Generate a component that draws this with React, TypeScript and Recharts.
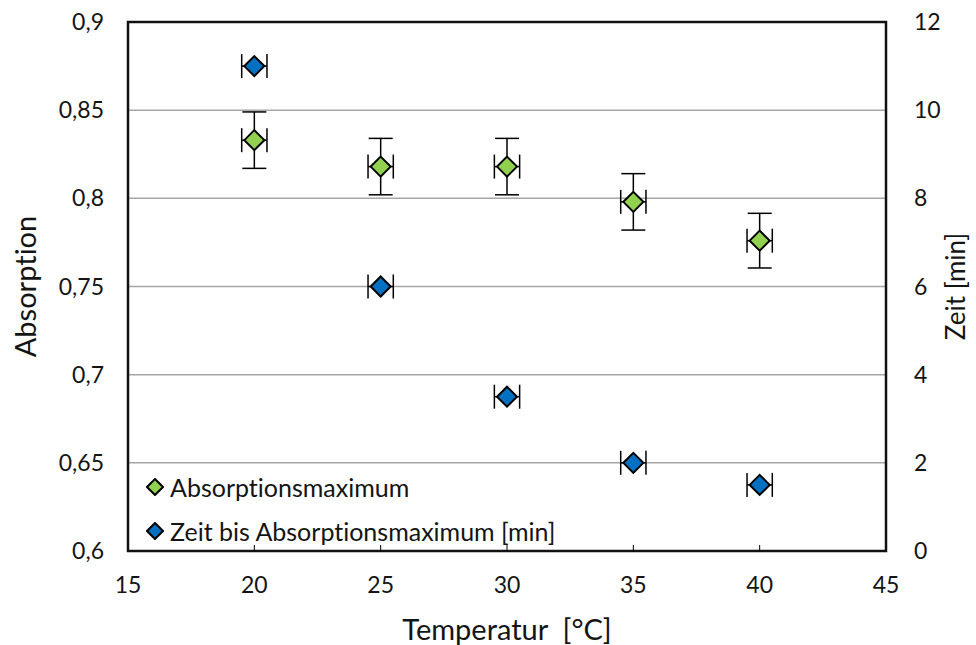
import React from 'react';
import {
  ScatterChart, Scatter, XAxis, YAxis, CartesianGrid, ErrorBar, ReferenceArea
} from 'recharts';

// Temperatur [°C]
const temperatures = [20, 25, 30, 35, 40];
const tempErr = [0.5, 0.5, 0.5, 0.5, 0.5];
// Absorptionsmaximum (left axis)
const absorption = [0.833, 0.818, 0.818, 0.798, 0.776];
const absorptionErr = [0.016, 0.016, 0.016, 0.016, 0.0155];
// Zeit bis Absorptionsmaximum [min] (right axis)
const zeitMin = [11, 6, 3.5, 2, 1.5];

const xTicks = [15, 20, 25, 30, 35, 40, 45];
const leftTicks = [0.6, 0.65, 0.7, 0.75, 0.8, 0.85, 0.9];
const rightTicks = [0, 2, 4, 6, 8, 10, 12];

const GREEN = '#92D050';
const BLUE = '#0070C0';
const FONT = 'Lato, "Open Sans", sans-serif';
const TXT = '#141414';
// Lato joins "ti" into a ligature, the original font does not
const NOLIG = { fontVariantLigatures: 'none', fontFeatureSettings: '"liga" 0, "clig" 0, "dlig" 0' } as any;

const series = [
  { name: 'Absorptionsmaximum', color: GREEN },
  { name: 'Zeit bis Absorptionsmaximum [min]', color: BLUE },
];

const absData = temperatures.map((t, i) => ({ t, v: absorption[i], ex: tempErr[i], ey: absorptionErr[i] }));
const zeitData = temperatures.map((t, i) => ({ t, v: zeitMin[i], ex: tempErr[i] }));

const comma = (v: number) => String(v).replace('.', ',');

const Diamond = (props: any) => {
  const { cx, cy, fill } = props;
  const r = 10;
  return (
    <polygon
      points={`${cx},${cy - r} ${cx + r},${cy} ${cx},${cy + r} ${cx - r},${cy}`}
      fill={fill}
      stroke="#000"
      strokeWidth={2}
    />
  );
};

const XTick = (props: any) => {
  const { x, y, payload } = props;
  const inner = payload.value > 15 && payload.value < 45;
  return (
    <g>
      {inner && <line x1={x} x2={x} y1={y} y2={y - 6} stroke="#000" strokeWidth={1} />}
      <text x={x} y={y + 42} textAnchor="middle" fontSize={23} fill={TXT} fontFamily={FONT}>
        {payload.value}
      </text>
    </g>
  );
};

export default function App() {
  return (
    <div style={{ position: 'absolute', left: 0, top: 0, width: 976, height: 645, background: '#fff', ...NOLIG }}>
      <ScatterChart
        width={976}
        height={645}
        margin={{ top: 22, right: 0, bottom: 0, left: 0 }}
        style={{ fontFamily: FONT, ...NOLIG }}
      >
        <CartesianGrid yAxisId="left" vertical={false} stroke="#a6a6a6" strokeWidth={1.5} />
        <XAxis
          type="number"
          dataKey="t"
          domain={[15, 45]}
          ticks={xTicks}
          height={94}
          tickSize={0}
          tickMargin={0}
          tickLine={false}
          axisLine={false}
          tick={<XTick />}
          label={{ value: 'Temperatur\u00a0 [°C]', position: 'insideBottom', offset: 5, fontSize: 29, fill: TXT, fontFamily: FONT }}
        />
        <YAxis
          yAxisId="left"
          type="number"
          dataKey="v"
          domain={[0.6, 0.9]}
          ticks={leftTicks}
          width={128}
          tickSize={0}
          tickMargin={24}
          tickLine={false}
          axisLine={false}
          tickFormatter={comma}
          tick={{ fontSize: 23, fill: TXT, fontFamily: FONT }}
          label={{ value: 'Absorption', angle: -90, position: 'insideLeft', offset: 26, fontSize: 29, fill: TXT, fontFamily: FONT, style: { textAnchor: 'middle', ...NOLIG } }}
        />
        <YAxis
          yAxisId="right"
          orientation="right"
          type="number"
          dataKey="v"
          domain={[0, 12]}
          ticks={rightTicks}
          width={90}
          tickSize={0}
          tickMargin={28}
          tickLine={false}
          axisLine={false}
          tick={{ fontSize: 23, fill: TXT, fontFamily: FONT, textAnchor: 'start' }}
          label={{ value: 'Zeit [min]', angle: -90, position: 'insideRight', offset: 20, fontSize: 26, fill: TXT, fontFamily: FONT, style: { textAnchor: 'middle' } }}
        />
        <ReferenceArea
          yAxisId="left"
          x1={15}
          x2={45}
          y1={0.6}
          y2={0.9}
          fill="none"
          fillOpacity={0}
          stroke="#111"
          strokeWidth={2.5}
          ifOverflow="visible"
        />
        <Scatter
          name={series[0].name}
          data={absData}
          yAxisId="left"
          fill={series[0].color}
          shape={<Diamond />}
          isAnimationActive={false}
        >
          <ErrorBar dataKey="ey" direction="y" width={12} stroke="#000" strokeWidth={1.5} />
          <ErrorBar dataKey="ex" direction="x" width={12} stroke="#000" strokeWidth={1.5} />
        </Scatter>
        <Scatter
          name={series[1].name}
          data={zeitData}
          yAxisId="right"
          fill={series[1].color}
          shape={<Diamond />}
          isAnimationActive={false}
        >
          <ErrorBar dataKey="ex" direction="x" width={12} stroke="#000" strokeWidth={1.5} />
        </Scatter>
      </ScatterChart>
      <div style={{ position: 'absolute', left: 146, top: 465, fontFamily: FONT, fontSize: 25, color: TXT, ...NOLIG }}>
        {series.map((s) => (
          <div key={s.name} style={{ display: 'flex', alignItems: 'center', height: 44 }}>
            <svg width={18} height={18} style={{ marginRight: 6 }}>
              <polygon points="9,1 17,9 9,17 1,9" fill={s.color} stroke="#000" strokeWidth={2} />
            </svg>
            <span>{s.name}</span>
          </div>
        ))}
      </div>
    </div>
  );
}
